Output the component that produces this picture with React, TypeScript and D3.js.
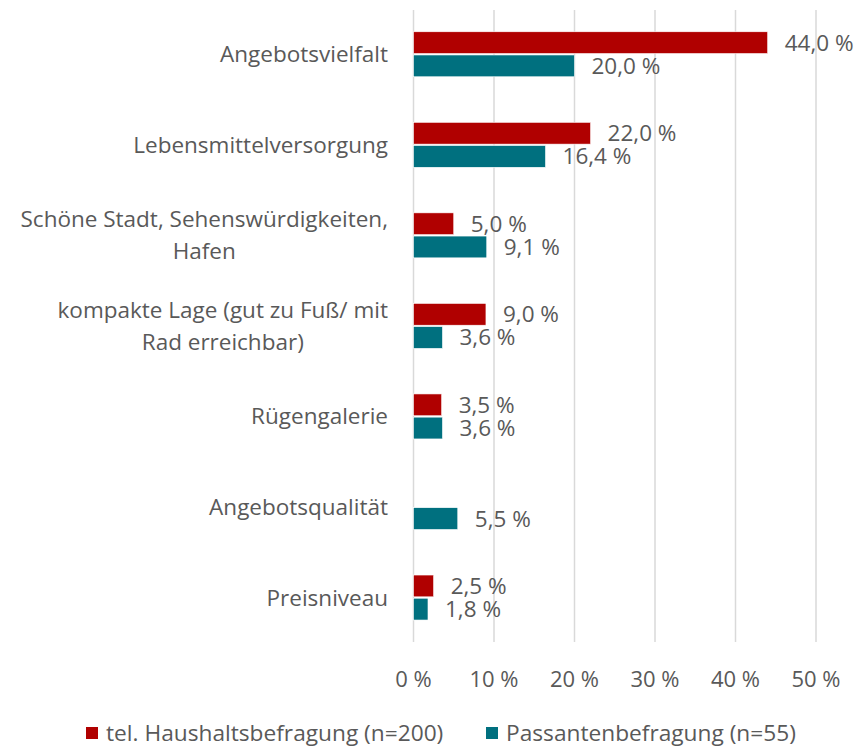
import React from "react";
import * as d3 from "d3";

const categories = [
  ["Angebotsvielfalt"],
  ["Lebensmittelversorgung"],
  ["Schöne Stadt, Sehenswürdigkeiten,", "Hafen"],
  ["kompakte Lage (gut zu Fuß/ mit", "Rad erreichbar)"],
  ["Rügengalerie"],
  ["Angebotsqualität"],
  ["Preisniveau"],
];
const haushalt: (number | null)[] = [44.0, 22.0, 5.0, 9.0, 3.5, null, 2.5];
const passanten: (number | null)[] = [20.0, 16.4, 9.1, 3.6, 3.6, 5.5, 1.8];
const xTicks = [0, 10, 20, 30, 40, 50];
const seriesNames = ["tel. Haushaltsbefragung (n=200)", "Passantenbefragung (n=55)"];
const seriesColors = ["#B00000", "#00707F"];

const W = 859;
const H = 747;
const FONT = "'Open Sans', 'Noto Sans', sans-serif";
const TEXT = "#595959";
const FS = 22.5;

const fmt = (v: number) => d3.format(".1f")(v).replace(".", ",") + " %";

export default function App() {
  const keys = categories.map((c) => c.join(" "));
  const x = d3.scaleLinear().domain([0, 50]).range([413.5, 816]);
  const y = d3.scaleBand<string>().domain(keys).range([9, 642.8]);
  const inner = d3.scaleBand<number>().domain([0, 1]).range([0, 45]).paddingInner(0.06);
  const series = [haushalt, passanten];

  return (
    <svg width={W} height={H} style={{ position: "absolute", left: 0, top: 0, background: "#fff" }} fontFamily={FONT}>
      {xTicks.map((t) => (
        <g key={t}>
          <line x1={x(t)} x2={x(t)} y1={10} y2={642} stroke="#D9D9D9" strokeWidth={1.5} />
          <text x={x(t)} y={687} textAnchor="middle" fontSize={22} fill={TEXT}>
            {t} %
          </text>
        </g>
      ))}
      {categories.map((lines, i) => {
        const key = keys[i];
        const cy = (y(key) as number) + y.bandwidth() / 2;
        const lh = 32;
        const y0 = cy - ((lines.length - 1) * lh) / 2 + 8;
        return (
          <g key={key}>
            {lines.length === 1 ? (
              <text x={388} y={y0} textAnchor="end" fontSize={FS} fill={TEXT}>
                {lines[0]}
              </text>
            ) : (
              <CenteredBlock lines={lines} right={388} y0={y0} lh={lh} />
            )}
            {series.map((vals, s) => {
              const v = vals[i];
              if (v == null) return null;
              const by = cy - 22.5 + (inner(s) as number);
              const bh = inner.bandwidth();
              return (
                <g key={s}>
                  <rect x={x(0)} y={by} width={x(v) - x(0)} height={bh} fill={seriesColors[s]} stroke="#fff" strokeWidth={0.6} />
                  <text x={x(v) + 17} y={by + bh / 2 + 8} fontSize={FS} fill={TEXT}>
                    {fmt(v)}
                  </text>
                </g>
              );
            })}
          </g>
        );
      })}
      {seriesNames.map((n, s) => {
        const lx = s === 0 ? 86 : 486;
        return (
          <g key={n}>
            <rect x={lx} y={727} width={12} height={12} fill={seriesColors[s]} />
            <text x={lx + 20} y={741} fontSize={22.7} fill={TEXT}>
              {n}
            </text>
          </g>
        );
      })}
    </svg>
  );
}

function CenteredBlock({ lines, right, y0, lh }: { lines: string[]; right: number; y0: number; lh: number }) {
  const ref = React.useRef<SVGGElement>(null);
  const [w, setW] = React.useState(0);
  React.useLayoutEffect(() => {
    if (!ref.current) return;
    const ts = ref.current.querySelectorAll("text");
    let m = 0;
    ts.forEach((t) => (m = Math.max(m, (t as SVGTextElement).getComputedTextLength())));
    setW(m);
  }, []);
  const cx = right - w / 2;
  return (
    <g ref={ref}>
      {lines.map((l, k) => (
        <text key={k} x={cx} y={y0 + k * lh} textAnchor="middle" fontSize={FS} fill={TEXT}>
          {l}
        </text>
      ))}
    </g>
  );
}
